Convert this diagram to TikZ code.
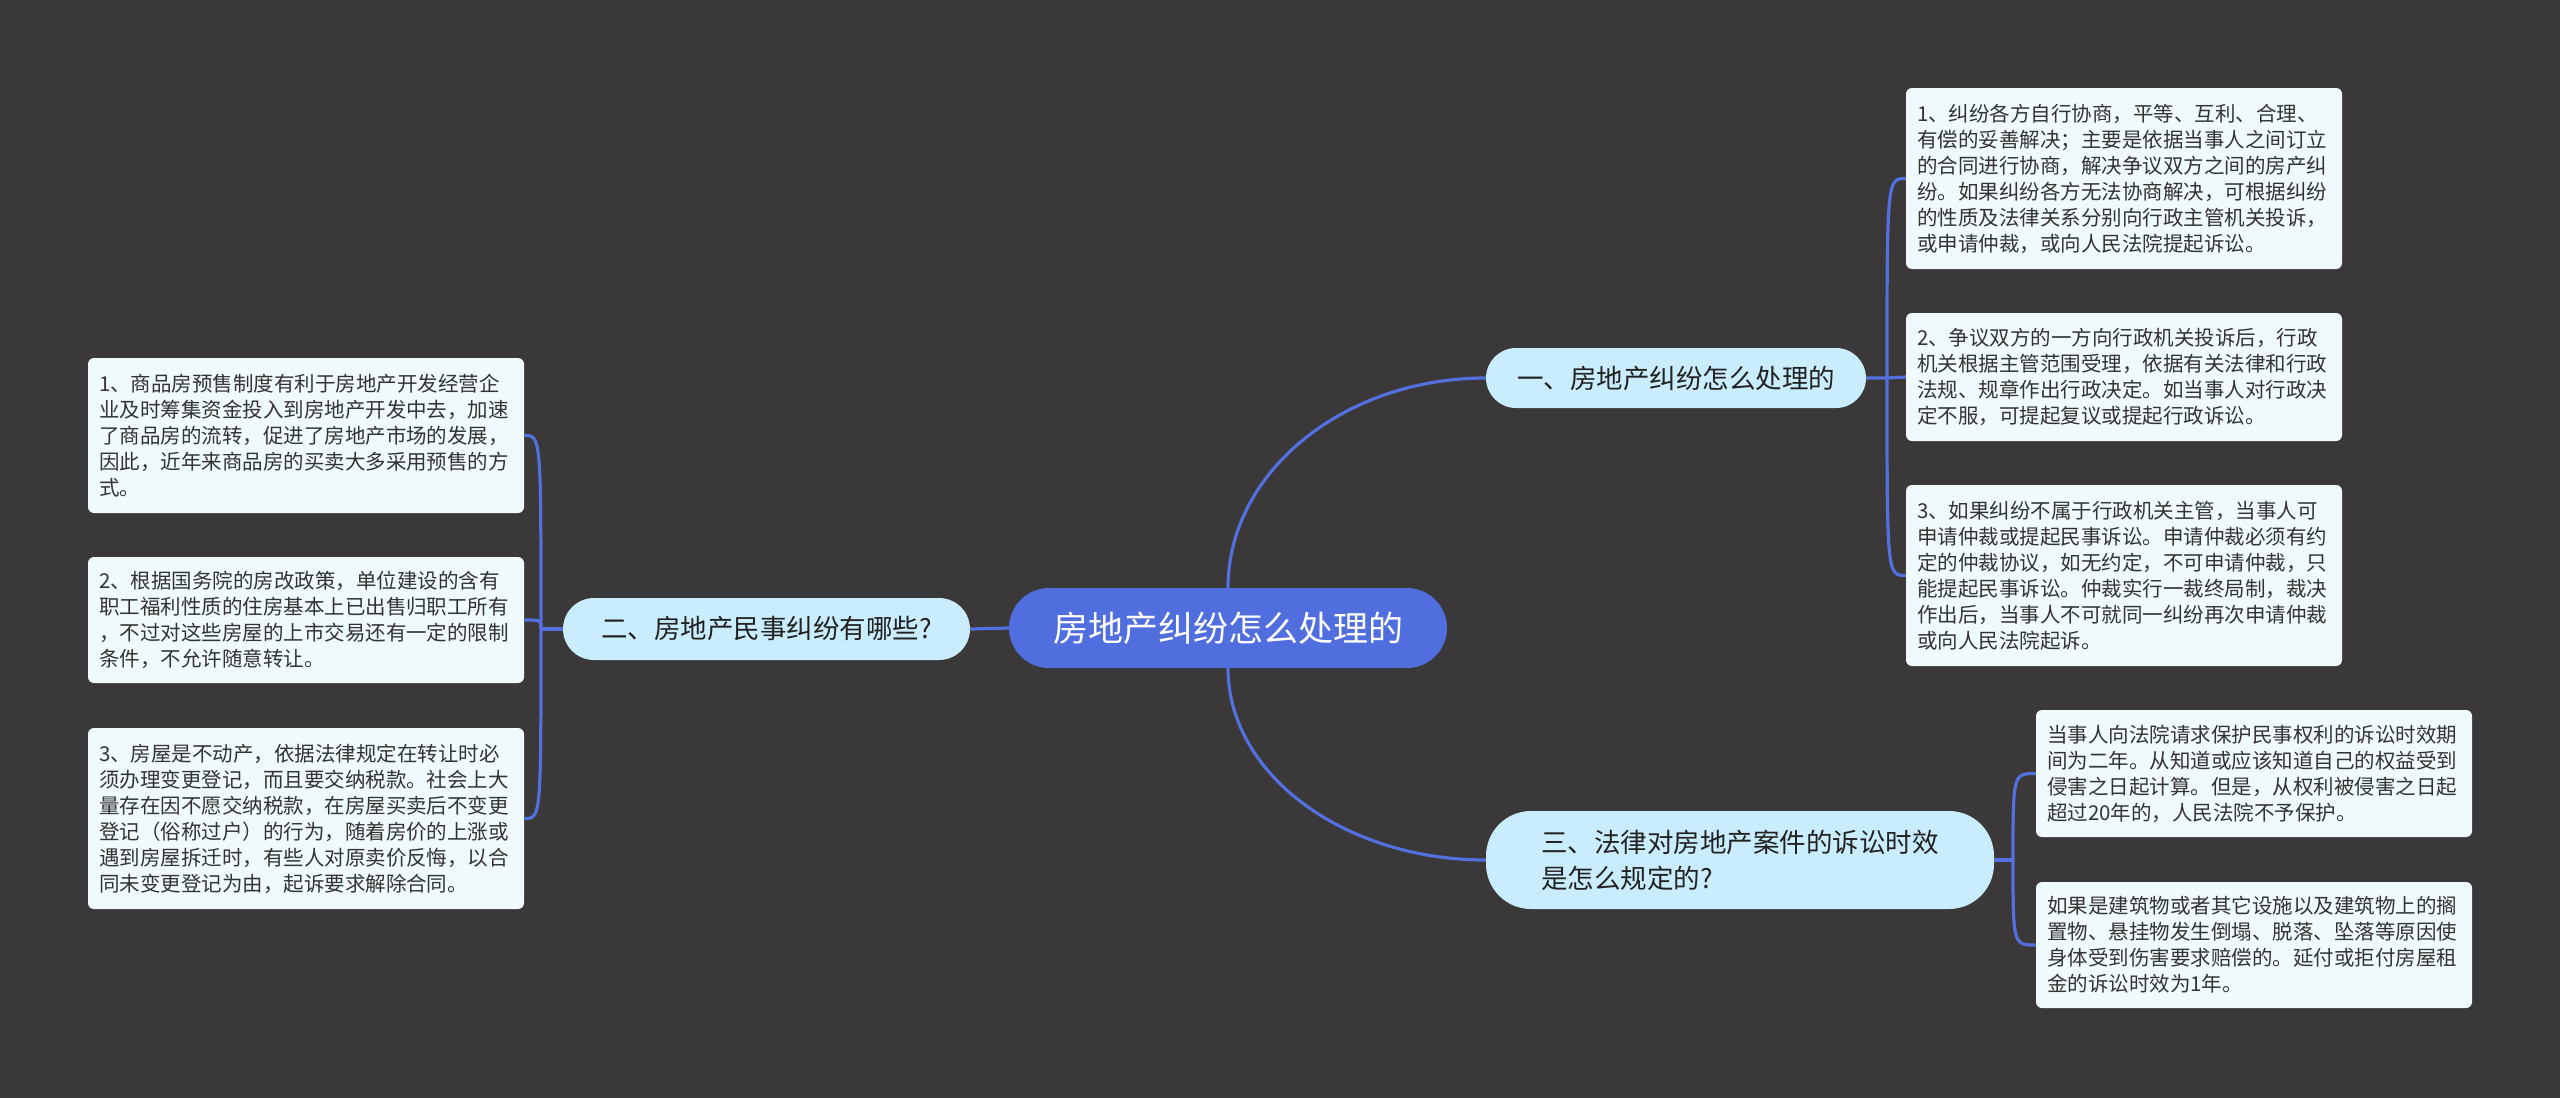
\documentclass[tikz,border=0pt]{standalone}
\usepackage{fontspec}
\setmainfont{Noto Sans CJK SC}
\definecolor{bg}{RGB}{58,56,57}
\definecolor{lineblue}{RGB}{84,112,222}
\definecolor{centerfill}{RGB}{80,110,222}
\definecolor{branchfill}{RGB}{201,237,252}
\definecolor{leaffill}{RGB}{240,250,252}
\definecolor{leaftext}{RGB}{51,51,51}
\definecolor{branchtext}{RGB}{34,34,34}
\begin{document}
\begin{tikzpicture}[x=1pt,y=-1pt,
  link/.style={draw=lineblue,line width=3.2pt},
  leaf/.style={fill=leaffill,rounded corners=6pt,text=leaftext,
    font=\fontsize{20.5}{26}\selectfont,text width=414pt,align=left,
    inner xsep=11pt,inner ysep=0pt,anchor=center},
  branch/.style={fill=branchfill,text=branchtext,
    font=\fontsize{26.5}{36}\selectfont,inner sep=0pt,anchor=center},
  rootnode/.style={fill=centerfill,text=white,font=\fontsize{35}{40}\selectfont,
    inner sep=0pt,minimum width=438pt,minimum height=80pt,rounded corners=40pt}]
\useasboundingbox (0,0) rectangle (2560,1098);
\fill[bg] (0,0) rectangle (2560,1098);

% root
\node[rootnode] (c) at (1228,628) {房地产纠纷怎么处理的};

% branches
\node[branch,minimum width=380pt,minimum height=60pt,rounded corners=30pt] (b1) at (1676,378) {一、房地产纠纷怎么处理的};
\node[branch,minimum width=407pt,minimum height=62pt,rounded corners=31pt] (b2) at (766.5,629) {二、房地产民事纠纷有哪些?};
\node[branch,text width=398pt,align=left,inner xsep=55pt,minimum height=98pt,rounded corners=45pt] (b3) at (1740,860) {三、法律对房地产案件的诉讼时效\\是怎么规定的?};

% right leaves of branch 1
\node[leaf,minimum height=181pt] (r1) at (2124,178.5) {1、纠纷各方自行协商，平等、互利、合理、\\有偿的妥善解决；主要是依据当事人之间订立\\的合同进行协商，解决争议双方之间的房产纠\\纷。如果纠纷各方无法协商解决，可根据纠纷\\的性质及法律关系分别向行政主管机关投诉，\\或申请仲裁，或向人民法院提起诉讼。};
\node[leaf,minimum height=128pt] (r2) at (2124,377) {2、争议双方的一方向行政机关投诉后，行政\\机关根据主管范围受理，依据有关法律和行政\\法规、规章作出行政决定。如当事人对行政决\\定不服，可提起复议或提起行政诉讼。};
\node[leaf,minimum height=181pt] (r3) at (2124,575.5) {3、如果纠纷不属于行政机关主管，当事人可\\申请仲裁或提起民事诉讼。申请仲裁必须有约\\定的仲裁协议，如无约定，不可申请仲裁，只\\能提起民事诉讼。仲裁实行一裁终局制，裁决\\作出后，当事人不可就同一纠纷再次申请仲裁\\或向人民法院起诉。};

% leaves of branch 3
\node[leaf,minimum height=127pt] (ta) at (2254,773.5) {当事人向法院请求保护民事权利的诉讼时效期\\间为二年。从知道或应该知道自己的权益受到\\侵害之日起计算。但是，从权利被侵害之日起\\超过20年的，人民法院不予保护。};
\node[leaf,minimum height=126pt] (tb) at (2254,945) {如果是建筑物或者其它设施以及建筑物上的搁\\置物、悬挂物发生倒塌、脱落、坠落等原因使\\身体受到伤害要求赔偿的。延付或拒付房屋租\\金的诉讼时效为1年。};

% left leaves of branch 2
\node[leaf,minimum height=155pt] (l1) at (306,435.5) {1、商品房预售制度有利于房地产开发经营企\\业及时筹集资金投入到房地产开发中去，加速\\了商品房的流转，促进了房地产市场的发展，\\因此，近年来商品房的买卖大多采用预售的方\\式。};
\node[leaf,minimum height=126pt] (l2) at (306,620) {2、根据国务院的房改政策，单位建设的含有\\职工福利性质的住房基本上已出售归职工所有\\，不过对这些房屋的上市交易还有一定的限制\\条件，不允许随意转让。};
\node[leaf,minimum height=181pt] (l3) at (306,818.5) {3、房屋是不动产，依据法律规定在转让时必\\须办理变更登记，而且要交纳税款。社会上大\\量存在因不愿交纳税款，在房屋买卖后不变更\\登记（俗称过户）的行为，随着房价的上涨或\\遇到房屋拆迁时，有些人对原卖价反悔，以合\\同未变更登记为由，起诉要求解除合同。};

% connectors root -> branches
\draw[link] (c.north) .. controls +(0,-116) and +(-142,0) .. (b1.west);
\draw[link] (c.south) .. controls +(0,106) and +(-142,0) .. (b3.west);
\draw[link] (c.west) -- (b2.east);

% branch 1 -> leaves
\coordinate (s1) at (1887,378);
\draw[link] (b1.east) -- (s1) -- (r2.west);
\draw[link] (s1) .. controls (1887,178.5) .. (r1.west);
\draw[link] (s1) .. controls (1887,575.5) .. (r3.west);

% branch 3 -> leaves
\coordinate (s3) at (2013,860);
\draw[link] (b3.east) -- (s3);
\draw[link] (s3) .. controls (2013,773.5) .. (ta.west);
\draw[link] (s3) .. controls (2013,945) .. (tb.west);

% branch 2 -> leaves
\coordinate (s2) at (541,629);
\draw[link] (b2.west) -- (s2);
\draw[link] (s2) .. controls (541,435.5) .. (l1.east);
\draw[link] (s2) .. controls (541,620) .. (l2.east);
\draw[link] (s2) .. controls (541,818.5) .. (l3.east);
\end{tikzpicture}
\end{document}
